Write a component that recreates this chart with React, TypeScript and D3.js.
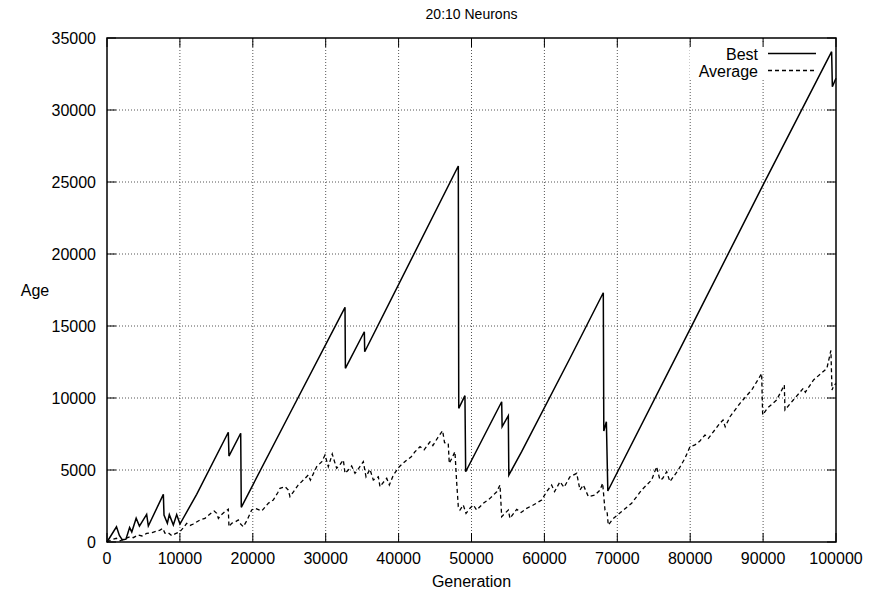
import React from "react";
import * as d3 from "d3";

// Generation / age readings for the best individual
const bestGen = [0, 1300, 1700, 2100, 2600, 3100, 3400, 4000, 4450, 5440, 5670, 7730, 7820, 8280, 8550, 9100, 9560, 10010, 12300, 16640, 16730, 18340, 18420, 25100, 32650, 32700, 35300, 35350, 48190, 48250, 49100, 49200, 54140, 54200, 55050, 55120, 56880, 63510, 68080, 68150, 68500, 68700, 80000, 90000, 99400, 99500, 100000];
const bestAge = [0, 1060, 450, 150, 200, 1000, 700, 1650, 1100, 1920, 1110, 3310, 1870, 1300, 1900, 1180, 1900, 1250, 3310, 7620, 5970, 7550, 2410, 8940, 16300, 12060, 14600, 13210, 26110, 9280, 10160, 4880, 9740, 8010, 8770, 4650, 6270, 12760, 17310, 7700, 8350, 3540, 14800, 24800, 34050, 31620, 32200];

// Generation / age readings for the population average
const avgGen = [0, 600, 1300, 1800, 2300, 3150, 3600, 4300, 4800, 5440, 6200, 7270, 7640, 7960, 8400, 8870, 9330, 10010, 10500, 10930, 11400, 11840, 12760, 13440, 14360, 14700, 15050, 15280, 15700, 16190, 16640, 16730, 17100, 17600, 18010, 18240, 18700, 19200, 19850, 20300, 21220, 22130, 22810, 23400, 23730, 24420, 24870, 25100, 25600, 26240, 27160, 27610, 27900, 28760, 29500, 29900, 30360, 30900, 31200, 31510, 32000, 32420, 32650, 33100, 33560, 34020, 34500, 35160, 35530, 36070, 36530, 37220, 37450, 38000, 38370, 38730, 39280, 40100, 41110, 41700, 42250, 42940, 43500, 44310, 44700, 45450, 46040, 46300, 46810, 46950, 47410, 47730, 47960, 48190, 48420, 48870, 49250, 49790, 50250, 50710, 51620, 52540, 53460, 53910, 54140, 54600, 55050, 55280, 56200, 56800, 57570, 58480, 59630, 60310, 60990, 61400, 62140, 62700, 63510, 64430, 64880, 65340, 66030, 66940, 67630, 67990, 68310, 68600, 68760, 69450, 70600, 71970, 73340, 74710, 75390, 75850, 76200, 76770, 77220, 78360, 79280, 79970, 80660, 81300, 82030, 82500, 84000, 84500, 84800, 85460, 86830, 88430, 89570, 89800, 89940, 90600, 91860, 92910, 93000, 94140, 95510, 95800, 96920, 98750, 99300, 99450, 99730, 100000];
const avgAge = [0, 150, 260, 80, 200, 370, 300, 490, 420, 600, 650, 830, 950, 600, 650, 440, 560, 720, 1000, 1300, 1150, 1250, 1530, 1640, 2040, 2150, 1990, 1640, 1900, 2110, 2270, 1060, 1300, 1400, 1530, 1300, 1060, 1500, 2220, 2340, 2150, 2690, 2920, 3400, 3730, 3840, 3610, 3150, 3500, 3960, 4420, 4650, 4300, 5230, 5600, 6040, 5230, 6110, 5600, 5120, 5400, 5690, 4770, 5000, 5280, 4770, 5100, 5580, 4530, 5050, 4310, 4530, 3840, 4200, 4420, 3960, 4650, 5230, 5690, 5900, 6270, 6620, 6400, 6960, 6700, 7310, 7730, 6900, 6850, 5460, 5920, 6270, 4190, 2450, 2220, 2570, 1990, 2340, 2570, 2220, 2690, 3030, 3490, 3960, 1760, 2000, 2220, 1640, 2270, 2050, 2340, 2570, 2920, 3490, 3960, 3500, 4190, 3800, 4530, 4770, 3610, 3960, 3150, 3260, 3610, 4080, 2220, 2100, 1180, 1640, 2110, 2690, 3610, 4310, 5230, 4310, 4400, 4880, 4190, 5000, 5810, 6620, 6740, 7000, 7430, 7200, 8200, 8470, 8000, 8700, 9630, 10550, 11500, 11700, 8820, 9300, 9860, 10900, 9170, 9860, 10670, 10400, 11250, 12060, 13300, 10550, 10900, 11000];

const xTicks = [0, 10000, 20000, 30000, 40000, 50000, 60000, 70000, 80000, 90000, 100000];
const yTicks = [0, 5000, 10000, 15000, 20000, 25000, 30000, 35000];
const seriesNames = ["Best", "Average"];

const W = 869;
const H = 594;
const M = { left: 107, right: 836, top: 38, bottom: 542 };
const FONT = "'Liberation Sans', Arial, Helvetica, sans-serif";

export default function App() {
  const x = d3.scaleLinear().domain([0, 100000]).range([M.left, M.right]);
  const y = d3.scaleLinear().domain([0, 35000]).range([M.bottom, M.top]);

  const line = d3
    .line<[number, number]>()
    .x((d) => x(d[0]))
    .y((d) => y(d[1]));

  const bestPts = bestGen.map((g, i) => [g, bestAge[i]] as [number, number]);
  const avgPts = avgGen.map((g, i) => [g, avgAge[i]] as [number, number]);

  const tick = 9;
  const grid = { stroke: "#555", strokeWidth: 1, strokeDasharray: "1,2" };

  return (
    <svg
      width={W}
      height={H}
      style={{ position: "absolute", left: 0, top: 0, background: "#fff" }}
      fontFamily={FONT}
    >
      <rect x={0} y={0} width={W} height={H} fill="#fff" />
      <text x={(M.left + M.right) / 2} y={19} textAnchor="middle" fontSize={14}>
        20:10 Neurons
      </text>

      {/* grid */}
      {xTicks.slice(1, -1).map((t) => (
        <line key={"gx" + t} x1={x(t)} x2={x(t)} y1={M.top} y2={M.bottom} {...grid} />
      ))}
      {yTicks.slice(1, -1).map((t) => (
        <line key={"gy" + t} x1={M.left} x2={M.right} y1={y(t)} y2={y(t)} {...grid} />
      ))}
      {/* key area clears the grid behind it */}
      <rect x={690} y={42} width={140} height={36} fill="#fff" />

      {/* ticks, mirrored on all sides */}
      {xTicks.map((t) => (
        <g key={"tx" + t} stroke="#000" strokeWidth={1}>
          <line x1={x(t)} x2={x(t)} y1={M.bottom} y2={M.bottom - tick} />
          <line x1={x(t)} x2={x(t)} y1={M.top} y2={M.top + tick} />
        </g>
      ))}
      {yTicks.map((t) => (
        <g key={"ty" + t} stroke="#000" strokeWidth={1}>
          <line x1={M.left} x2={M.left + tick} y1={y(t)} y2={y(t)} />
          <line x1={M.right} x2={M.right - tick} y1={y(t)} y2={y(t)} />
        </g>
      ))}

      {/* data */}
      <path d={line(avgPts) ?? ""} fill="none" stroke="#000" strokeWidth={1.3} strokeDasharray="4,3" />
      <path d={line(bestPts) ?? ""} fill="none" stroke="#000" strokeWidth={1.5} />

      {/* border */}
      <rect
        x={M.left}
        y={M.top}
        width={M.right - M.left}
        height={M.bottom - M.top}
        fill="none"
        stroke="#000"
        strokeWidth={1.5}
      />

      {/* tick labels */}
      {xTicks.map((t) => (
        <text key={"lx" + t} x={x(t)} y={564} textAnchor="middle" fontSize={16}>
          {t}
        </text>
      ))}
      {yTicks.map((t) => (
        <text key={"ly" + t} x={96} y={y(t) + 6} textAnchor="end" fontSize={16}>
          {t}
        </text>
      ))}

      <text x={(M.left + M.right) / 2} y={587} textAnchor="middle" fontSize={16}>
        Generation
      </text>
      <text x={35} y={296} textAnchor="middle" fontSize={16}>
        Age
      </text>

      {/* key */}
      <text x={758} y={60} textAnchor="end" fontSize={16}>
        {seriesNames[0]}
      </text>
      <line x1={768} x2={816} y1={53.5} y2={53.5} stroke="#000" strokeWidth={1.3} />
      <text x={758} y={77} textAnchor="end" fontSize={16}>
        {seriesNames[1]}
      </text>
      <line x1={768} x2={816} y1={70.5} y2={70.5} stroke="#000" strokeWidth={1.3} strokeDasharray="4,3" />
    </svg>
  );
}
